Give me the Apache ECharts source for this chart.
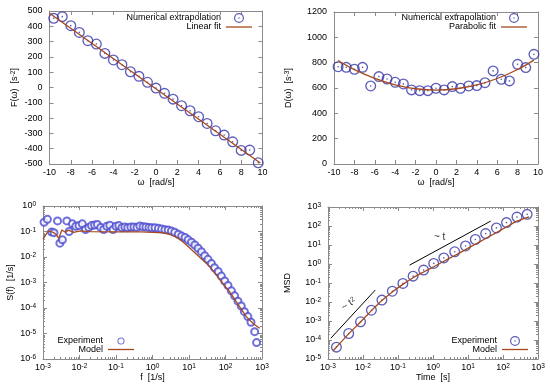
<!DOCTYPE html>
<html><head><meta charset="utf-8">
<script src="https://cdn.jsdelivr.net/npm/echarts@6/dist/echarts.min.js"></script>
<style>html,body{margin:0;padding:0;background:#fff}#c{width:550px;height:391px}</style>
</head><body><div id="c"></div>
<script>
// ---- Panel 1: F(omega) ----
const omegaF = [-9.6,-8.8,-8.0,-7.2,-6.4,-5.6,-4.8,-4.0,-3.2,-2.4,-1.6,-0.8,0,0.8,1.6,2.4,3.2,4.0,4.8,5.6,6.4,7.2,8.0,8.8,9.6];
const FNum = [452,463,404,360,306,284,223,180,149,103,73,34,-4,-38,-76,-119,-152,-191,-235,-283,-311,-355,-411,-409,-492];
const omegaFFit = [-10,9.8];
const FFit = [485,-494];
// ---- Panel 2: D(omega) ----
const omegaD = omegaF;
const DNum = [768,763,748,763,616,690,671,645,632,585,579,579,598,585,611,598,616,619,642,735,669,656,787,761,866];
const omegaDFit = [-9.6,-8,-6,-4,-2,0,2,4,6,8,9.6];
const DFit = [817,745,676,625,594,583,594,624,675,746,820];
// ---- Panel 3: S(f) ----
const fExp = [0.00107,0.00132,0.00172,0.0020,0.0025,0.0029,0.0034,0.0045,0.0052,0.0064,
  0.0079,0.0097,0.0119,0.0146,0.018,0.0214,0.026,0.031,0.038,0.046,
  0.056,0.068,0.083,0.10,0.12,0.145,0.175,0.21,0.255,0.31,
  0.375,0.45,0.55,0.66,0.80,0.955,1.17,1.45,1.78,2.19,
  2.69,3.3,4.07,5.1,6.3,7.8,9.5,11.7,14.5,17.8,
  21.9,26.9,33,41,50,63,77,95,117,145,
  178,219,270,330,410,500,630,710];
const SExp = [0.23,0.30,0.095,0.090,0.26,0.035,0.047,0.26,0.10,0.20,
  0.16,0.17,0.20,0.12,0.145,0.17,0.18,0.19,0.145,0.12,
  0.16,0.175,0.12,0.16,0.17,0.14,0.15,0.14,0.15,0.15,
  0.145,0.165,0.155,0.15,0.145,0.141,0.141,0.133,0.126,0.118,
  0.115,0.105,0.093,0.078,0.066,0.058,0.047,0.038,0.0295,0.022,
  0.0162,0.0112,0.0081,0.0056,0.0038,0.0027,0.00178,0.00115,0.00076,0.00047,
  0.0003,0.000186,0.00012,0.000072,0.000046,0.0000275,0.0000118,0.0000044];
const fModel = [0.001,0.0014,0.0019,0.0023,0.0027,0.0033,0.0041,0.005,0.0069,0.0105,0.02,0.1,0.5,1,2,3,5,7,10.7,20,37,70,132,250,372,600,870];
const SModel = [0.05,0.105,0.093,0.075,0.054,0.115,0.093,0.113,0.093,0.105,0.098,0.097,0.097,0.093,0.088,0.078,0.055,0.038,0.022,0.0095,0.0042,0.0013,0.00042,0.000105,0.000046,0.000023,0.000016];
// ---- Panel 4: MSD ----
const tExp = [0.00174,0.0039,0.0085,0.0174,0.0347,0.069,0.138,0.27,0.54,1.05,2.04,4.17,8.5,16.2,32,65,126,251,490];
const msdExp = [4.2e-5,2.2e-4,9.1e-4,3.7e-3,0.0126,0.037,0.095,0.23,0.48,1.07,2.1,4.4,8.9,19.5,40,79,151,295,410];
const tModel = [0.0014,0.0039,0.0085,0.0174,0.0347,0.069,0.138,0.27,0.54,1.05,2.04,4.17,8.5,16.2,32,65,126,251,560];
const msdModel = [2.7e-5,2.1e-4,8.8e-4,3.5e-3,0.012,0.034,0.085,0.19,0.38,0.72,1.4,2.8,5.7,11,22,45,90,180,300];
const guideT2x = [0.0012,0.0224], guideT2y = [1.23e-4,0.0427];
const guideT1x = [0.214,44.7], guideT1y = [0.87,182];
const guideLabels = [['~ t{sup|2}',0.0039,0.0078,35],['~ t',1.55,26,0]];
// minor tick mantissas for log axes
const minorMant = [2,3,4,5,6,7,8,9];

const FONT = '"Liberation Sans", Arial, sans-serif';
const FRAME = '#8a8a8a';
const CIRC = '#3434a6';
const CIRC2 = '#4b4bd0';
const MODEL = '#a5481d';
const ring = 'path://M0,-10A10,10,0,1,1,0,10A10,10,0,1,1,0,-10ZM0,-7.6A7.6,7.6,0,1,0,0,7.6A7.6,7.6,0,1,0,0,-7.6ZM0,-1.5A1.5,1.5,0,1,1,0,1.5A1.5,1.5,0,1,1,0,-1.5Z';
const smallRingIcon = 'path://M0,-14L0,-14M0,-10A10,10,0,1,1,0,10A10,10,0,1,1,0,-10ZM0,-7.2A7.2,7.2,0,1,0,0,7.2A7.2,7.2,0,1,0,0,-7.2ZM0,14L0,14';
const lineIcon = 'path://M0,0L26,0L26,1.3L0,1.3Z';
const zip = (a,b) => a.map((v,i)=>[v,b[i]]);
const sup = {sup:{fontSize:6.5, verticalAlign:'top', fontFamily:FONT, color:'#000', padding:[0,0,3,0]}};
const logFmt = v => '10{sup|' + Math.round(Math.log10(v)) + '}';

function axis(dim, grid, pos, cfg, primary) {
  const a = {
    gridIndex: grid, position: pos, type: cfg.type || 'value',
    min: cfg.min, max: cfg.max,
    axisLine: {show: true, onZero: false, lineStyle: {color: FRAME, width: 1}},
    axisTick: {show: true, inside: true, length: 4, lineStyle: {color: FRAME}},
    splitLine: {show: false},
    axisLabel: {show: primary, color: '#000', fontSize: 9, fontFamily: FONT, margin: dim === 'x' ? 4 : 7,
      showMinLabel: true, showMaxLabel: true},
  };
  if (cfg.type === 'log') {
    a.logBase = 10; a.splitNumber = cfg.split;
    a.axisLabel.formatter = logFmt; a.axisLabel.rich = sup;
  } else {
    a.interval = cfg.interval;
    a.axisLabel.formatter = v => String(v);
  }
  if (primary && cfg.name) {
    a.name = cfg.name; a.nameLocation = 'middle'; a.nameGap = cfg.gap;
    a.nameTextStyle = {fontSize: 9, fontFamily: FONT, color: '#000', rich: sup};
    if (dim === 'y') a.nameRotate = 90;
  }
  return a;
}
const grids = [
  {left: 49.5, top: 11, width: 213, height: 153},
  {left: 334, top: 12, width: 204, height: 152},
  {left: 43, top: 206, width: 219, height: 153},
  {left: 328, top: 207, width: 210, height: 152},
];
const xc = [
  {min:-10, max:10, interval:2, name:'ω  [rad/s]', gap:13},
  {min:-10, max:10, interval:2, name:'ω  [rad/s]', gap:13},
  {type:'log', min:0.001, max:1000, split:6, name:'f  [1/s]', gap:14},
  {type:'log', min:0.001, max:1000, split:6, name:'Time  [s]', gap:14},
];
const yc = [
  {min:-500, max:500, interval:100, name:'F(ω)  [s{sup|-2}]', gap:30},
  {min:0, max:1200, interval:200, name:'D(ω)  [s{sup|-3}]', gap:40},
  {type:'log', min:1e-6, max:1, split:6, name:'S(f)  [1/s]', gap:28},
  {type:'log', min:1e-5, max:1000, split:8, name:'MSD', gap:36},
];
const xAxis = [], yAxis = [];
for (let g = 0; g < 4; g++) {
  xAxis.push(axis('x', g, 'bottom', xc[g], true), axis('x', g, 'top', xc[g], false));
  yAxis.push(axis('y', g, 'left', yc[g], true), axis('y', g, 'right', yc[g], false));
}
const strip = n => n.replace(/ \(.*\)$/, '');
function legend(names, right, top, gap) {
  return {data: names.map(n => (typeof n === 'string' ? {name: n} : n)), orient: 'vertical', align: 'right', right, top,
    itemWidth: 26, itemHeight: 10, itemGap: gap, selectedMode: false, formatter: strip, padding: 0,
    symbolKeepAspect: true,
    textStyle: {fontSize: 9, fontFamily: FONT, color: '#000', lineHeight: 10}};
}
const lineS = (name, xi, data, extra) => Object.assign({type:'line', name, xAxisIndex: xi, yAxisIndex: xi, data,
  symbol:'none', showSymbol:false, z: 5, lineStyle:{color: MODEL, width: 1.3}, itemStyle:{color: MODEL}}, extra || {});
const ringS = (name, xi, data) => ({type:'scatter', name, xAxisIndex: xi, yAxisIndex: xi, data,
  symbol: ring, symbolSize: 11, itemStyle: {color: CIRC}, z: 3});

// minor ticks (log axes): decade values times mantissa
function decades(lo, hi) { const r = []; for (let e = lo; e < hi; e++) minorMant.forEach(m => r.push(m * Math.pow(10, e))); return r; }
function minorTicks(xi, dim, vals, other) {
  return {type:'custom', xAxisIndex: xi, yAxisIndex: xi, silent: true, z: 2,
    data: vals.map(v => dim === 'x' ? [v, other] : [other, v]),
    renderItem: (params, api) => {
      const cs = params.coordSys;
      const p = api.coord([api.value(0), api.value(1)]);
      const st = {stroke: FRAME, lineWidth: 1};
      if (dim === 'x') {
        const x = Math.round(p[0]) + 0.5;
        return {type:'group', children:[
          {type:'line', shape:{x1:x, y1:cs.y + cs.height, x2:x, y2:cs.y + cs.height - 2}, style: st},
          {type:'line', shape:{x1:x, y1:cs.y, x2:x, y2:cs.y + 2}, style: st}]};
      }
      const y = Math.round(p[1]) + 0.5;
      return {type:'group', children:[
        {type:'line', shape:{x1:cs.x, y1:y, x2:cs.x + 2, y2:y}, style: st},
        {type:'line', shape:{x1:cs.x + cs.width, y1:y, x2:cs.x + cs.width - 2, y2:y}, style: st}]};
    }};
}

const series = [
  ringS('Numerical extrapolation (F)', 0, zip(omegaF, FNum)),
  lineS('Linear fit', 0, zip(omegaFFit, FFit)),
  ringS('Numerical extrapolation (D)', 2, zip(omegaD, DNum)),
  lineS('Parabolic fit', 2, zip(omegaDFit, DFit), {smooth: 0.4}),
  {type:'scatter', name:'Experiment (S)', xAxisIndex:4, yAxisIndex:4, data: zip(fExp, SExp),
    symbol:'emptyCircle', symbolSize: 7, itemStyle:{color: CIRC2, borderColor: CIRC2, borderWidth: 1}, z: 3},
  lineS('Model (S)', 4, zip(fModel, SModel)),
  ringS('Experiment (MSD)', 6, zip(tExp, msdExp)),
  lineS('Model (MSD)', 6, zip(tModel, msdModel), {smooth: 0.3}),
  {type:'line', name:'guide2', xAxisIndex:6, yAxisIndex:6, data: zip(guideT2x, guideT2y), symbol:'none',
    lineStyle:{color:'#000', width:1}, silent:true},
  {type:'line', name:'guide1', xAxisIndex:6, yAxisIndex:6, data: zip(guideT1x, guideT1y), symbol:'none',
    lineStyle:{color:'#000', width:1}, silent:true},
  {type:'scatter', name:'guideLabels', xAxisIndex:6, yAxisIndex:6, symbolSize: 0, silent: true,
    data: guideLabels.map(d => ({value:[d[1], d[2]], label:{rotate: d[3]}, txt: d[0]})),
    label:{show:true, position:'inside', fontSize:10, fontFamily:FONT, color:'#000',
      formatter: p => p.data.txt, rich: {sup:{fontSize:7, verticalAlign:'top', fontFamily:FONT, color:'#000', padding:[0,0,3,0]}}}},
  minorTicks(4, 'x', decades(-3, 3), 1e-6),
  minorTicks(4, 'y', decades(-6, 0), 0.001),
  minorTicks(6, 'x', decades(-3, 3), 1e-5),
  minorTicks(6, 'y', decades(-5, 3), 0.001),
];
const chart = echarts.init(document.getElementById('c'), null, {renderer: 'canvas'});
chart.setOption({
  animation: false, backgroundColor: '#fff',
  grid: grids, xAxis, yAxis, series,
  legend: [
    legend(['Numerical extrapolation (F)', {name:'Linear fit', icon: lineIcon}], 298, 13, -1),
    legend(['Numerical extrapolation (D)', {name:'Parabolic fit', icon: lineIcon}], 23, 13, -1),
    legend([{name:'Experiment (S)', icon: smallRingIcon, itemStyle:{borderWidth: 0, color: CIRC2}}, {name:'Model (S)', icon: lineIcon}], 416, 336, -1.5),
    legend(['Experiment (MSD)', {name:'Model (MSD)', icon: lineIcon}], 22, 336, -1.5),
  ],
});
</script></body></html>
